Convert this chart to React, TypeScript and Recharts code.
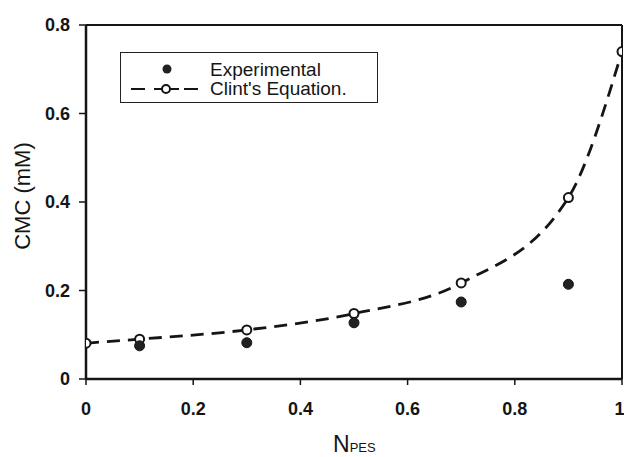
import React from 'react';
import {ComposedChart, Line, Scatter, XAxis, YAxis, Legend, ReferenceLine} from 'recharts';

const fractions = [0, 0.1, 0.3, 0.5, 0.7, 0.9, 1];
const clintValues = [0.081, 0.09, 0.111, 0.148, 0.217, 0.41, 0.74];
const expFractions = [0.1, 0.3, 0.5, 0.7, 0.9];
const expValues = [0.075, 0.082, 0.127, 0.174, 0.214];
const xTicks = [0, 0.2, 0.4, 0.6, 0.8, 1];
const yTicks = [0, 0.2, 0.4, 0.6, 0.8];

const clintData = fractions.map((x, i) => ({x, y: clintValues[i]}));
const expData = expFractions.map((x, i) => ({x, y: expValues[i]}));

const ink = '#151515';
const font = '"Liberation Sans", Arial, sans-serif';

const OpenDot = (props: any) => {
  const {cx, cy} = props;
  if (cx == null || cy == null) return null;
  return <circle cx={cx} cy={cy} r={4.5} fill="#fff" stroke={ink} strokeWidth={2} />;
};

const FilledDot = (props: any) => {
  const {cx, cy} = props;
  if (cx == null || cy == null) return null;
  return <circle cx={cx} cy={cy} r={5} fill="#222" stroke={ink} strokeWidth={1} />;
};

// legend box sits at (120, 52) in the page
const LegendBox = () => (
  <div style={{
    position: 'absolute', left: 120, top: 52, width: 256, height: 49,
    border: '1.5px solid #222', background: '#fff',
  }}>
    <svg width={256} height={49} style={{position: 'absolute', left: 0, top: 0}}>
      <circle cx={46} cy={16} r={4.5} fill="#222" />
      <line x1={10} y1={36} x2={24} y2={36} stroke={ink} strokeWidth={2} />
      <line x1={33} y1={36} x2={58} y2={36} stroke={ink} strokeWidth={2} />
      <line x1={63} y1={36} x2={77} y2={36} stroke={ink} strokeWidth={2} />
      <circle cx={45} cy={36} r={4} fill="#fff" stroke={ink} strokeWidth={2} />
      <text x={89} y={23} fontSize={19} fill={ink} fontFamily={font}>Experimental</text>
      <text x={89} y={42} fontSize={19} fill={ink} fontFamily={font}>Clint's Equation.</text>
    </svg>
  </div>
);

export default function App() {
  return (
    <div style={{position: 'absolute', left: 0, top: 0, width: 624, height: 457, background: '#fff'}}>
      <ComposedChart width={624} height={457} margin={{top: 25, right: 2, bottom: 0, left: 0}}>
        <XAxis
          type="number"
          dataKey="x"
          domain={[0, 1]}
          ticks={xTicks}
          tickFormatter={(v: number) => String(v)}
          tickSize={6}
          tickMargin={17}
          height={78}
          allowDataOverflow
          axisLine={{stroke: ink, strokeWidth: 2.5}}
          tickLine={{stroke: ink, strokeWidth: 1.5}}
          tick={{fill: ink, fontSize: 18, fontWeight: 'bold', fontFamily: font}}
          label={({viewBox}: any) => (
            <text x={viewBox.x + 247} y={viewBox.y + 73} textAnchor="start" fill={ink} fontFamily={font}>
              <tspan fontSize={23}>N</tspan>
              <tspan fontSize={13}>PES</tspan>
            </text>
          )}
        />
        <YAxis
          type="number"
          dataKey="y"
          domain={[0, 0.8]}
          ticks={yTicks}
          tickFormatter={(v: number) => String(v)}
          tickSize={7}
          tickMargin={9}
          width={86}
          axisLine={{stroke: ink, strokeWidth: 2.5}}
          tickLine={{stroke: ink, strokeWidth: 1.5}}
          tick={{fill: ink, fontSize: 18, fontWeight: 'bold', fontFamily: font}}
          label={() => (
            <text x={30} y={196} transform="rotate(-90 30 196)" textAnchor="middle" fontSize={22} fill={ink} fontFamily={font}>
              CMC (mM)
            </text>
          )}
        />
        <ReferenceLine y={0.8} stroke={ink} strokeWidth={2} />
        <ReferenceLine x={1} stroke={ink} strokeWidth={2} />
        <Legend content={() => <LegendBox />} wrapperStyle={{position: 'absolute', left: 0, top: 0, width: 0, height: 0}} />
        <Line
          data={clintData}
          dataKey="y"
          name="Clint's Equation."
          type="monotone"
          stroke={ink}
          strokeWidth={2.8}
          strokeDasharray="13 8"
          dot={<OpenDot />}
          activeDot={false}
          isAnimationActive={false}
        />
        <Scatter
          data={expData}
          dataKey="y"
          name="Experimental"
          shape={<FilledDot />}
          isAnimationActive={false}
        />
      </ComposedChart>
    </div>
  );
}
